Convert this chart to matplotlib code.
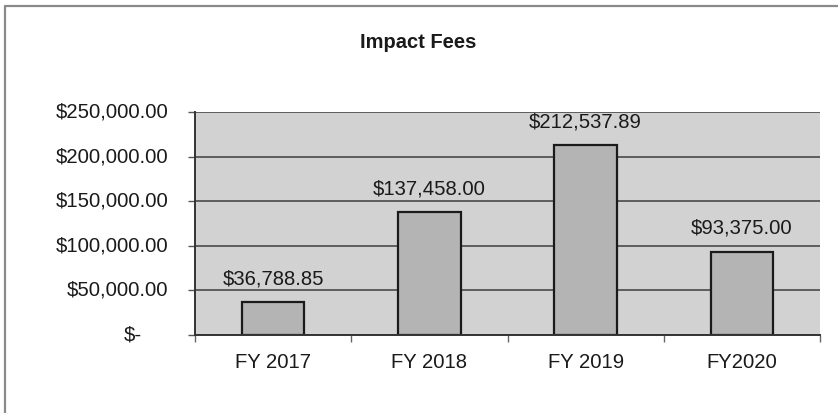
import matplotlib
matplotlib.use("Agg")
import matplotlib.pyplot as plt
from matplotlib.patches import Rectangle
from matplotlib.ticker import FixedLocator
import matplotlib.transforms as mtransforms

categories = ["FY 2017", "FY 2018", "FY 2019", "FY2020"]
values = [36788.85, 137458.00, 212537.89, 93375.00]
value_labels = ["$36,788.85", "$137,458.00", "$212,537.89", "$93,375.00"]
y_ticks = [0, 50000, 100000, 150000, 200000, 250000]
y_tick_labels = ["$-", "$50,000.00", "$100,000.00", "$150,000.00", "$200,000.00", "$250,000.00"]
title = "Impact Fees"

plt.rcParams['font.family'] = ['Liberation Sans', 'DejaVu Sans']
W, H = 838, 413
fig = plt.figure(figsize=(W / 100, H / 100), dpi=100)
fig.patch.set_facecolor("white")

# outer chart border (left + top)
fig.add_artist(plt.Line2D([5 / W, 5 / W, 1.0], [0.0, 1 - 6 / H, 1 - 6 / H],
                          transform=fig.transFigure, color="#8a8a8a", lw=1.6))

left, right, top, bottom = 195, 820, 112, 335
ax = fig.add_axes([left / W, 1 - bottom / H, (right - left) / W, (bottom - top) / H])
ax.set_facecolor("#d2d2d2")

x = list(range(len(categories)))
ax.bar(x, values, width=0.4, color="#b4b4b4", edgecolor="#1a1a1a", linewidth=1.6, zorder=3)

ax.set_xlim(-0.5, len(categories) - 0.5)
ax.set_ylim(0, 250000)

# gridlines
ax.set_yticks(y_ticks)
ax.yaxis.grid(True, color="#4a4a4a", linewidth=1.2, zorder=1)
ax.set_axisbelow(True)
ax.tick_params(axis="y", length=5, width=1, color="#555555", labelleft=False)

for s in ["top", "right"]:
    ax.spines[s].set_visible(False)
ax.spines["left"].set_color("#333333")
ax.spines["left"].set_linewidth(1.4)
ax.spines["bottom"].set_color("#333333")
ax.spines["bottom"].set_linewidth(1.4)
ax.spines["bottom"].set_zorder(4)

# y tick labels drawn as text (accounting alignment)
trans = mtransforms.blended_transform_factory(ax.transAxes, ax.transData)
for val, lab in zip(y_ticks, y_tick_labels):
    xo = -27 / (right - left)
    if lab == "$-":
        xo = -53 / (right - left)
    ax.text(xo, val, lab, transform=trans, ha="right", va="center", fontsize=14.6, color="#1a1a1a")

# x ticks: labels at categories, tick marks at boundaries
ax.set_xticks(x)
ax.set_xticklabels(categories, fontsize=14.6, color="#1a1a1a")
ax.tick_params(axis="x", which="major", length=0, pad=13)
ax.xaxis.set_minor_locator(FixedLocator([i - 0.5 for i in range(len(categories) + 1)]))
ax.tick_params(axis="x", which="minor", length=5, width=1, color="#666666")

# data labels
for xi, v, lab in zip(x, values, value_labels):
    ax.annotate(lab, (xi, v), xytext=(0, 17), textcoords="offset points",
                ha="center", va="center", fontsize=14.6, color="#1a1a1a")

fig.text(418 / W, 1 - 42 / H, title, ha="center", va="center", fontsize=14.5,
         fontweight="bold", color="#1a1a1a")

fig.savefig("out.png", dpi=100)
